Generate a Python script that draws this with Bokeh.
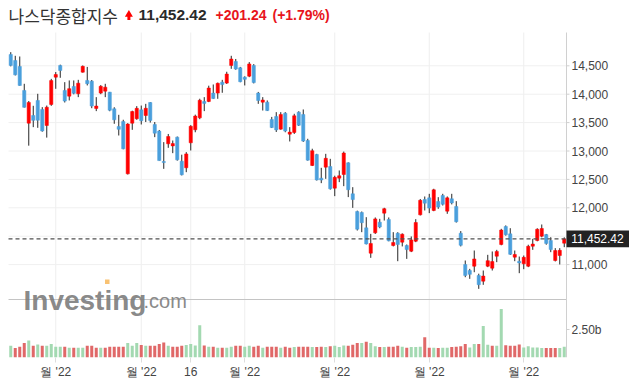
from bokeh.plotting import figure
from bokeh.models import FixedTicker, Range1d, Label, ColumnDataSource
from bokeh.embed import file_html
from bokeh.resources import INLINE
from bokeh.core.properties import value

# ---------------- data (Nasdaq Composite, daily, 2022-01-18 .. 2022-07-15) ----------------
dates = (["01-%02d" % d for d in [18, 19, 20, 21, 24, 25, 26, 27, 28, 31]]
         + ["02-%02d" % d for d in [1, 2, 3, 4, 7, 8, 9, 10, 11, 14, 15, 16, 17, 18, 22, 23, 24, 25, 28]]
         + ["03-%02d" % d for d in [1, 2, 3, 4, 7, 8, 9, 10, 11, 14, 15, 16, 17, 18, 21, 22, 23, 24, 25, 28, 29, 30, 31]]
         + ["04-%02d" % d for d in [1, 4, 5, 6, 7, 8, 11, 12, 13, 14, 18, 19, 20, 21, 22, 25, 26, 27, 28, 29]]
         + ["05-%02d" % d for d in [2, 3, 4, 5, 6, 9, 10, 11, 12, 13, 16, 17, 18, 19, 20, 23, 24, 25, 26, 27, 31]]
         + ["06-%02d" % d for d in [1, 2, 3, 6, 7, 8, 9, 10, 13, 14, 15, 16, 17, 21, 22, 23, 24, 27, 28, 29, 30]]
         + ["07-%02d" % d for d in [1, 5, 6, 7, 8, 11, 12, 13, 14, 15]])

opens = [14700, 14594, 14488, 14066, 13490, 13625, 13890, 13731, 13449, 13819,
         14300, 14506, 14066, 13966, 14136, 14007, 14388, 14242, 14230, 13749,
         14019, 14054, 14036, 13743, 13432, 13520, 12598, 13490, 13567, 13725,
         13625, 13854, 13467, 13350, 12815, 13126, 13090, 13244, 12821, 12704,
         13144, 13373, 13584, 13872, 13872, 14019, 14019, 14212, 14195, 14506,
         14576, 14465, 14300, 14318, 14506, 14019, 13860, 13860, 13555, 13608,
         13385, 13666, 13297, 13326, 13684, 13643, 13185, 12745, 12939, 12522,
         12716, 12727, 12346, 12522, 12586, 12792, 12246, 11935, 11917, 11647,
         11201, 11559, 11747, 11906, 11794, 11336, 11553, 11395, 11336, 11236,
         11412, 11876, 12146, 12175, 11953, 12111, 12217, 11941, 12158, 12023,
         11553, 11002, 10896, 10972, 10808, 10708, 10972, 10937, 11148, 11354,
         11671, 11541, 11131, 11060, 11013, 10972, 11324, 11424, 11500, 11529,
         11424, 11072, 11160, 11377]
highs = [14740, 14676, 14664, 14183, 13880, 13796, 14007, 13772, 13800, 14270,
         14390, 14520, 14212, 14242, 14242, 14253, 14506, 14480, 14250, 13948,
         14160, 14183, 14040, 13770, 13637, 13550, 13490, 13710, 13790, 13800,
         13830, 13860, 13510, 13370, 13156, 13300, 13185, 13255, 12935, 12980,
         13455, 13640, 13920, 13948, 14150, 14171, 14205, 14253, 14395, 14676,
         14620, 14480, 14315, 14565, 14530, 14040, 13948, 13890, 13600, 13684,
         13684, 13684, 13420, 13655, 13700, 13731, 13215, 13040, 12950, 12704,
         12950, 12862, 12565, 12657, 12990, 12800, 12363, 11950, 11935, 11835,
         11541, 11830, 11806, 12000, 11830, 11571, 11570, 11550, 11354, 11495,
         11800, 12155, 12199, 12246, 12335, 12187, 12246, 12200, 12246, 12117,
         11590, 11072, 10925, 11248, 10840, 10896, 11172, 11231, 11260, 11630,
         11690, 11641, 11248, 11142, 11160, 11350, 11453, 11640, 11706, 11540,
         11482, 11290, 11290, 11480]
lows = [14490, 14330, 14150, 13765, 13094, 13420, 13408, 13340, 13236, 13795,
        14095, 14289, 13854, 13890, 13998, 13948, 14380, 14154, 13754, 13702,
        14000, 13948, 13700, 13479, 13273, 13030, 12586, 13373, 13550, 13467,
        13510, 13500, 13244, 12830, 12686, 13056, 12962, 12830, 12570, 12627,
        13009, 13330, 13560, 13702, 13860, 13919, 13919, 14025, 14180, 14447,
        14430, 14210, 14154, 14300, 14190, 13830, 13713, 13705, 13405, 13335,
        13375, 13330, 13168, 13300, 13440, 13160, 12830, 12735, 12480, 12434,
        12510, 12320, 12205, 12452, 12381, 12188, 11999, 11600, 11571, 11355,
        11119, 11540, 11640, 11776, 11410, 11320, 11060, 11320, 11101, 11220,
        11395, 11865, 11953, 11906, 11940, 11982, 12040, 11894, 12060, 11740,
        11320, 10778, 10749, 10866, 10573, 10644, 10955, 10896, 11043, 11340,
        11510, 11170, 11060, 10849, 10919, 10955, 11260, 11410, 11480, 11350,
        11219, 11055, 11002, 11307]
closes = [14506.90, 14340.26, 14154.02, 13768.92, 13855.13, 13539.29, 13542.12, 13352.78, 13770.57, 14239.88,
          14346.00, 14417.55, 13878.82, 14098.01, 14015.67, 14194.46, 14490.37, 14185.64, 13791.15, 13790.92,
          14139.76, 14124.09, 13716.72, 13548.07, 13381.52, 13037.49, 13473.59, 13694.62, 13751.40, 13532.46,
          13752.02, 13537.94, 13313.44, 12830.96, 12795.55, 13255.55, 13129.96, 12843.81, 12581.22, 12948.62,
          13436.55, 13614.78, 13893.84, 13838.46, 14108.82, 13922.60, 14191.84, 14169.30, 14354.90, 14619.64,
          14442.28, 14220.52, 14261.50, 14532.55, 14204.17, 13888.82, 13897.30, 13711.00, 13411.96, 13371.57,
          13643.59, 13351.08, 13332.36, 13619.66, 13453.07, 13174.65, 12839.29, 13004.85, 12490.74, 12488.93,
          12871.53, 12334.64, 12536.02, 12563.76, 12964.86, 12317.69, 12144.66, 11623.25, 11737.67, 11364.24,
          11370.96, 11805.00, 11662.79, 11984.52, 11418.15, 11388.50, 11354.62, 11535.27, 11264.45, 11434.74,
          11740.65, 12131.13, 12081.39, 11994.46, 12316.90, 12012.73, 12061.37, 12175.23, 12086.27, 11754.23,
          11340.02, 10809.23, 10828.35, 11099.15, 10646.10, 10798.35, 11069.30, 11053.08, 11232.19, 11607.62,
          11524.55, 11181.54, 11177.89, 11028.74, 11127.85, 11322.24, 11361.85, 11621.35, 11635.31, 11372.60,
          11264.73, 11247.58, 11251.18, 11452.42]
# volume, billions of shares
volumes = [1.06, 0.85, 0.97, 1.30, 1.52, 1.06, 1.15, 1.06, 1.06, 1.20,
           0.97, 0.97, 0.97, 0.88, 0.88, 0.88, 0.88, 1.06, 1.06, 0.88,
           0.88, 0.88, 0.97, 0.97, 0.97, 0.97, 1.30, 1.06, 1.30, 1.12,
           1.06, 1.06, 1.06, 1.20, 1.34, 1.06, 0.97, 0.97, 1.06, 1.12,
           1.20, 1.07, 2.87, 1.07, 0.97, 0.97, 0.88, 0.88, 0.88, 0.97,
           1.06, 1.06, 0.97, 1.06, 0.97, 1.06, 0.88, 0.97, 0.97, 0.97,
           0.88, 0.97, 0.88, 0.94, 0.97, 0.97, 0.97, 0.94, 0.94, 0.97,
           0.94, 1.00, 1.06, 0.94, 1.07, 1.06, 1.14, 1.30, 1.30, 1.40,
           1.30, 1.00, 0.94, 0.94, 0.97, 0.97, 1.06, 0.97, 0.88, 0.94,
           0.94, 0.97, 1.80, 0.88, 0.88, 0.85, 0.88, 0.88, 0.94, 0.97,
           1.00, 1.20, 0.90, 1.20, 1.20, 2.81, 1.14, 1.06, 1.06, 4.34,
           1.10, 1.06, 1.06, 1.15, 0.90, 1.00, 0.90, 0.90, 0.85, 0.85,
           0.85, 0.85, 0.85, 0.97]

x_tick_index = [10, 29, 40, 52, 72, 93, 114]
x_tick_labels = ["월 '22", "월 '22", "16", "월 '22", "월 '22", "월 '22", "월 '22"]
price_ticks = [11000, 12000, 12500, 13000, 13500, 14000, 14500]
grid_ticks = [11000, 11500, 12000, 12500, 13000, 13500, 14000, 14500]
vol_ticks = [2.5]  # billions
vol_tick_labels = ["2.50b"]

title_name = "나스닥종합지수"
last_price = closes[-1]
change = closes[-1] - closes[-2]
change_pct = change / closes[-2] * 100

# ---------------- styles / geometry ----------------
UP = "#ff0000"
DOWN = "#4a9fdc"
WICK = "#262626"
VOL_UP = "#a3d9b1"
VOL_DOWN = "#e06868"
NUM_FONT = "Liberation Sans"
KR_FONT = "Noto Sans CJK KR"
W, H = 629, 386
FRAME_H = 357                 # frame: full width, 0..357 px
PX_PER_BAR = 4.5
LEFT_PAD = 8                  # px before first bar slot
PX_PER_PT = 0.0568            # price scale
Y_14500 = 65.3                # px position of 14,500
VOL_TICK_PX = 28              # px height of the 2.50b volume tick above the base

n = len(closes)
x_lo = -0.5 - LEFT_PAD / PX_PER_BAR
x_hi = x_lo + W / PX_PER_BAR
y_hi = 14500 + Y_14500 / PX_PER_PT
y_lo = y_hi - FRAME_H / PX_PER_PT
vol_hi = vol_ticks[0] * FRAME_H / VOL_TICK_PX


def py(px):  # page-pixel y -> price units
    return y_hi - px / PX_PER_PT


def px_x(px):  # page-pixel x -> bar units
    return x_lo + px / PX_PER_BAR


idx = list(range(n))
body_top = [max(o, c) for o, c in zip(opens, closes)]
body_bot = [min(o, c) for o, c in zip(opens, closes)]
body_col = [UP if c >= o else DOWN for o, c in zip(opens, closes)]
vol_col = [VOL_UP] + [VOL_UP if closes[i] >= closes[i - 1] else VOL_DOWN for i in range(1, n)]

src = ColumnDataSource(dict(x=idx, o=opens, h=highs, l=lows, c=closes,
                            bt=body_top, bb=body_bot, col=body_col,
                            v=volumes, vcol=vol_col))

p = figure(width=W, height=H, output_backend="svg", toolbar_location=None,
           x_range=Range1d(x_lo, x_hi), y_range=Range1d(y_lo, y_hi),
           y_axis_location=None, min_border_left=0, min_border_top=0,
           min_border_right=0, min_border_bottom=H - FRAME_H)
p.outline_line_color = None
p.background_fill_color = "white"
p.xgrid.visible = False
p.ygrid.visible = False
p.extra_y_ranges = {"vol": Range1d(0, vol_hi)}

left_edge = -0.5
right_edge = n - 0.5
grid_top = py(32)

# grid lines (limited to the chart area)
p.segment(x0=x_tick_index, y0=[y_lo] * len(x_tick_index), x1=x_tick_index,
          y1=[grid_top] * len(x_tick_index), line_color="#eeeeee", line_width=1)
p.segment(x0=[left_edge] * len(grid_ticks), y0=grid_ticks, x1=[right_edge] * len(grid_ticks),
          y1=grid_ticks, line_color="#f0f0f0", line_width=1)

# separator between price and volume panes
sep = py(299)
p.segment(x0=[left_edge], y0=[sep], x1=[right_edge], y1=[sep], line_color="#c4c4c4", line_width=1)

# watermark
p.add_layout(Label(x=px_x(23), y=py(300), text="Investing", text_font=NUM_FONT, text_font_style="bold",
                   text_font_size="28px", text_color="#7a7a7a", text_alpha=0.9,
                   text_baseline="alphabetic"))
p.add_layout(Label(x=px_x(143), y=py(300), text=".com", text_font=NUM_FONT,
                   text_font_size="20px", text_color="#8a8a8a", text_baseline="alphabetic"))
p.quad(left=[px_x(104.5)], right=[px_x(109)], bottom=[py(283.5)], top=[py(279)],
       fill_color="#f9c272", line_color=None)

# volume
p.vbar(x="x", top="v", width=0.67, fill_color="vcol", line_color=None, source=src, y_range_name="vol")

# candles
p.segment(x0="x", y0="l", x1="x", y1="h", line_color=WICK, line_width=1, source=src)
p.vbar(x="x", top="bt", bottom="bb", width=0.72, fill_color="col", line_color="col",
       line_width=0.5, source=src)

# last price line
p.segment(x0=[left_edge], y0=[last_price], x1=[right_edge], y1=[last_price],
          line_color="#505050", line_width=1.2, line_dash="4 3")

# right-hand price axis
axis_top = py(32)
p.segment(x0=[right_edge], y0=[y_lo], x1=[right_edge], y1=[axis_top], line_color="#d0d0d0", line_width=1)
tick_len = 3 / PX_PER_BAR
p.segment(x0=[right_edge] * len(price_ticks), y0=price_ticks,
          x1=[right_edge + tick_len] * len(price_ticks), y1=price_ticks, line_color="#d0d0d0")
p.text(x=[right_edge + 5 / PX_PER_BAR] * len(price_ticks), y=price_ticks,
       text=[f"{t:,}" for t in price_ticks], text_font=value(NUM_FONT), text_font_size="12px",
       text_color="#444444", text_baseline="middle", text_align="left")
p.segment(x0=[right_edge] * len(vol_ticks), y0=vol_ticks,
          x1=[right_edge + tick_len] * len(vol_ticks), y1=vol_ticks, line_color="#d0d0d0",
          y_range_name="vol")
p.text(x=[right_edge + 5 / PX_PER_BAR] * len(vol_ticks), y=vol_ticks, text=vol_tick_labels,
       text_font=value(NUM_FONT), text_font_size="12px", text_color="#444444",
       text_baseline="middle", text_align="left", y_range_name="vol")

# last price tag
half = 8.4 / PX_PER_PT
p.quad(left=[right_edge], right=[x_hi], bottom=[last_price - half], top=[last_price + half],
       fill_color="#222222", line_color=None)
p.text(x=[right_edge + 4.7 / PX_PER_BAR], y=[last_price], text=[f"{last_price:,.2f}"],
       text_font=value(NUM_FONT), text_font_size="12px", text_color="white",
       text_baseline="middle", text_align="left")

# bottom date axis
xa = p.xaxis[0]
xa.ticker = FixedTicker(ticks=x_tick_index)
xa.major_label_overrides = dict(zip(x_tick_index, x_tick_labels))
xa.axis_line_color = None
xa.major_tick_line_color = "#dddddd"
xa.major_tick_in = 0
xa.major_tick_out = 5
xa.minor_tick_line_color = None
xa.major_label_standoff = 2
xa.major_label_text_font = NUM_FONT
xa.major_label_text_font_size = "12px"
xa.major_label_text_color = "#444444"

# header
ty = py(14.5)
p.add_layout(Label(x=px_x(8), y=ty, text=title_name, text_font=KR_FONT, text_font_size="17px",
                   text_color="#333333", text_baseline="middle"))
# up arrow icon: triangle head + stem
p.scatter(x=[px_x(128.4)], y=[py(14)], marker="triangle", size=8, fill_color=UP, line_color=None)
p.quad(left=[px_x(126.9)], right=[px_x(129.9)], bottom=[py(19.5)], top=[py(15.5)],
       fill_color=UP, line_color=None)
p.add_layout(Label(x=px_x(138), y=ty, text=f"{last_price:,.2f}", text_font=NUM_FONT, text_font_style="bold",
                   text_font_size="15.5px", text_color="#2a2a2a", text_baseline="middle"))
p.add_layout(Label(x=px_x(215), y=ty, text=f"{change:+,.2f}", text_font=NUM_FONT, text_font_style="bold",
                   text_font_size="14px", text_color="#e8141b", text_baseline="middle"))
p.add_layout(Label(x=px_x(272), y=ty, text=f"({change_pct:+.2f}%)", text_font=NUM_FONT, text_font_style="bold",
                   text_font_size="14px", text_color="#e8141b", text_baseline="middle"))

open("out.html", "w").write(file_html(p, INLINE))
